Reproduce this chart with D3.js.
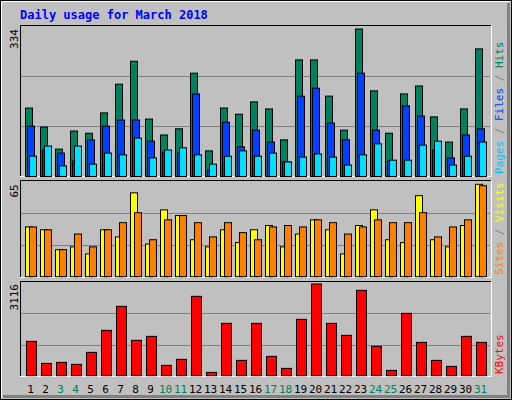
<!DOCTYPE html>
<html><head><meta charset="utf-8">
<script src="https://cdn.jsdelivr.net/npm/d3@7"></script>
<style>body{margin:0;background:#fff}text{font-family:"DejaVu Sans Mono",monospace}</style>
</head><body><svg id="chart" width="512" height="400"></svg>
<script>
const days = d3.range(1, 32);
const weekendDays = [3, 4, 10, 11, 17, 18, 24, 25, 31];
const hits = [155,112,62,103,98,144,209,261,130,94,108,234,58,155,141,169,153,83,264,264,182,105,334,194,98,187,205,135,78,153,289];
const files = [114,60,53,35,83,114,128,128,80,55,53,187,15,123,67,105,78,33,182,200,121,83,234,105,35,160,137,60,42,94,108];
const pages = [46,69,24,69,28,53,49,87,42,60,65,49,28,46,58,46,53,33,44,51,44,26,49,74,37,37,71,80,26,46,78];
const sites = [35,33,19,21,16,33,28,59,23,47,43,26,21,33,24,33,36,21,30,40,33,16,36,47,26,24,57,26,21,36,65];
const visits = [35,33,19,30,21,33,38,45,26,40,43,38,28,38,31,26,35,36,35,40,38,30,35,40,38,38,45,28,35,40,64];
const kbytes = [1167,419,453,385,793,1541,2357,1201,1337,351,555,2697,113,1779,521,1779,657,249,1915,3116,1779,1371,2901,997,181,2119,1133,521,317,1337,1133];

const svg = d3.select("#chart");
const x = d3.scaleLinear().domain([1, 31]).range([25, 475]);

// frame
svg.append("rect").attr("x", 0.5).attr("y", 0.5).attr("width", 511).attr("height", 399).attr("fill", "#c0c0c0").attr("stroke", "#000");
svg.append("path").attr("d", "M1.5,398.5V1.5H510.5").attr("fill", "none").attr("stroke", "#fff");
svg.append("path").attr("d", "M508.5,3V396.5H3").attr("fill", "none").attr("stroke", "#808080").attr("stroke-width", 3);

svg.append("text").attr("x", 20).attr("y", 19).attr("fill", "#0000ff")
    .style("font-size", "12px").style("font-weight", "bold").text("Daily usage for March 2018");

const panels = [
    {top: 25, bottom: 177, maxY: 29, base: 176.5, max: 334,
     series: [{v: hits, c: "#00805c", dx: 0, w: 7}, {v: files, c: "#0040ff", dx: 2, w: 7}, {v: pages, c: "#00e0ff", dx: 4, w: 7}],
     legend: [["Pages", "#00c0ff"], [" / ", "#808080"], ["Files", "#0040ff"], [" / ", "#808080"], ["Hits", "#00805c"]]},
    {top: 180, bottom: 278, maxY: 184.3, base: 276.7, max: 65,
     series: [{v: sites, c: "#ffff00", dx: 0, w: 7}, {v: visits, c: "#ff8000", dx: 4, w: 7}],
     legend: [["Sites", "#ff8000"], [" / ", "#808080"], ["Visits", "#ffff00"]]},
    {top: 281, bottom: 377, maxY: 284, base: 375.7, max: 3116,
     series: [{v: kbytes, c: "#ff0000", dx: 1, w: 10}],
     legend: [["KBytes", "#ff0000"]]}
];

panels.forEach(p => {
    const y = d3.scaleLinear().domain([0, p.max]).range([p.base, p.maxY]);
    const h = p.bottom - p.top;
    [1, 2].forEach(k => {
        const gy = Math.round(p.top + h * k / 3) + 0.5;
        svg.append("line").attr("x1", 21).attr("x2", 490).attr("y1", gy).attr("y2", gy).attr("stroke", "#808080");
    });
    svg.append("path").attr("d", `M20.5,${p.bottom}V${p.top + 0.5}H491`).attr("fill", "none").attr("stroke", "#000");
    svg.append("path").attr("d", `M491.5,${p.top}V${p.bottom - 0.5}H20`).attr("fill", "none").attr("stroke", "#fff");

    p.series.forEach(s => {
        svg.append("g").selectAll("rect").data(s.v).join("rect")
            .attr("x", (d, i) => x(days[i]) + s.dx + 0.5)
            .attr("y", d => y(d))
            .attr("width", s.w)
            .attr("height", d => p.base - y(d))
            .attr("fill", s.c).attr("stroke", "#000");
    });

    svg.append("text").attr("transform", `translate(18,${p.maxY}) rotate(-90)`)
        .attr("text-anchor", "end").style("font-size", "11px").attr("fill", "#000").text(p.max);

    const t = svg.append("text").attr("transform", `translate(503,${p.bottom - 3}) rotate(-90)`)
        .style("font-size", "11px");
    p.legend.forEach(([s, c]) => t.append("tspan").attr("fill", c).text(s));
});

svg.append("g").selectAll("text").data(days).join("text")
    .attr("x", d => x(d) + 5.5).attr("y", 393).attr("text-anchor", "middle")
    .style("font-size", "11px")
    .attr("fill", d => weekendDays.includes(d) ? "#00805c" : "#000")
    .text(d => d);
</script></body></html>
